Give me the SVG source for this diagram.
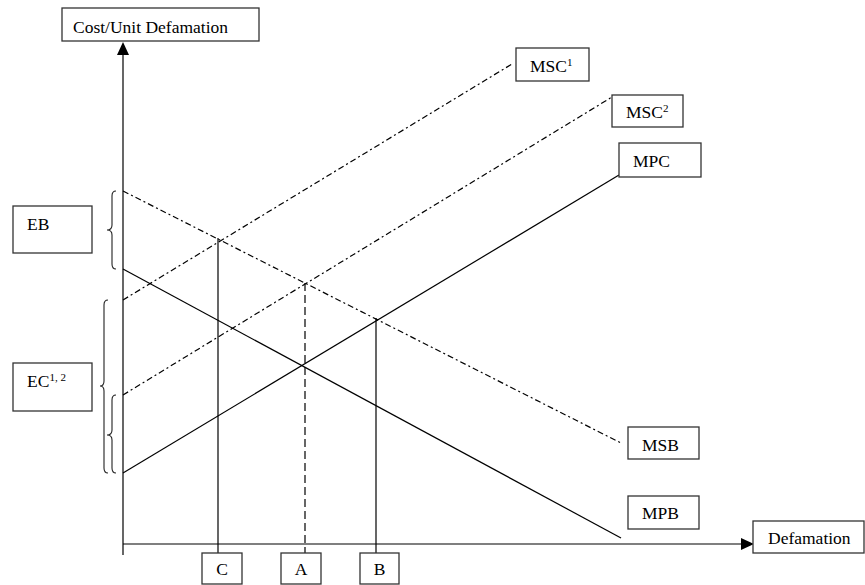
<svg xmlns="http://www.w3.org/2000/svg" width="865" height="585" viewBox="0 0 865 585">
<style>
.box{fill:#fff;stroke:#333;stroke-width:1.3}
.t{font-family:"Liberation Serif","Times New Roman",serif;font-size:17.5px;fill:#000}
.sup{font-size:11px}
.ln{stroke:#000;stroke-width:1.2;fill:none}
.dd{stroke-dasharray:6 3 2 3}
.da{stroke-dasharray:8 4}
.br{stroke:#222;stroke-width:1.1;fill:none}
</style>
<rect width="865" height="585" fill="#fff"/>
<g id="connectors">
<line class="ln" x1="123" y1="555" x2="123" y2="54"/>
<polygon points="123,42 117,55 129,55" fill="#000"/>
<line class="ln" x1="123" y1="544" x2="742" y2="544"/>
<polygon points="754,544 741,538 741,550" fill="#000"/>
<line class="ln dd" x1="123" y1="300" x2="512" y2="64"/>
<line class="ln dd" x1="123" y1="395" x2="612" y2="97"/>
<line class="ln" x1="123" y1="473" x2="619" y2="175"/>
<line class="ln dd" x1="123" y1="191" x2="621" y2="443"/>
<line class="ln" x1="123" y1="269" x2="621" y2="538"/>
<line class="ln" x1="218" y1="238" x2="218" y2="553"/>
<line class="ln da" x1="305" y1="283" x2="305" y2="553"/>
<line class="ln" x1="376" y1="318" x2="376" y2="553"/>
<path class="br" d="M116,191 Q112,191 112,196 L112,225 Q112,230 107,230 Q112,230 112,235 L112,264 Q112,269 116,269"/>
<path class="br" d="M108,300 Q104,300 104,305 L104,381 Q104,386 100,386 Q104,386 104,391 L104,468 Q104,473 108,473"/>
<path class="br" d="M116,395 Q112,395 112,400 L112,430 Q112,435 107,435 Q112,435 112,440 L112,468 Q112,473 116,473"/>
</g>
<g id="yaxis-label"><rect class="box" x="62" y="8" width="197" height="33"/><text class="t" x="73" y="33">Cost/Unit Defamation</text></g>
<g id="xaxis-label"><rect class="box" x="753" y="521" width="111" height="32"/><text class="t" x="768" y="544">Defamation</text></g>
<g id="msc1"><rect class="box" x="516" y="48" width="73" height="33"/><text class="t" x="530" y="72">MSC<tspan class="sup" dy="-6">1</tspan></text></g>
<g id="msc2"><rect class="box" x="612" y="95" width="71" height="32"/><text class="t" x="626" y="118">MSC<tspan class="sup" dy="-6">2</tspan></text></g>
<g id="mpc"><rect class="box" x="619" y="143" width="82" height="34"/><text class="t" x="633" y="167">MPC</text></g>
<g id="msb"><rect class="box" x="628" y="427" width="71" height="32"/><text class="t" x="642" y="451">MSB</text></g>
<g id="mpb"><rect class="box" x="628" y="496" width="71" height="33"/><text class="t" x="642" y="519">MPB</text></g>
<g id="eb"><rect class="box" x="13" y="206" width="79" height="47"/><text class="t" x="27" y="230">EB</text></g>
<g id="ec"><rect class="box" x="13" y="363" width="79" height="48"/><text class="t" x="27" y="387">EC<tspan class="sup" dy="-6">1, 2</tspan></text></g>
<g id="c"><rect class="box" x="202" y="553" width="40" height="31"/><text class="t" x="222" y="575" text-anchor="middle">C</text></g>
<g id="a"><rect class="box" x="281" y="553" width="40" height="31"/><text class="t" x="301" y="575" text-anchor="middle">A</text></g>
<g id="b"><rect class="box" x="360" y="553" width="39" height="31"/><text class="t" x="379.5" y="575" text-anchor="middle">B</text></g>
</svg>
